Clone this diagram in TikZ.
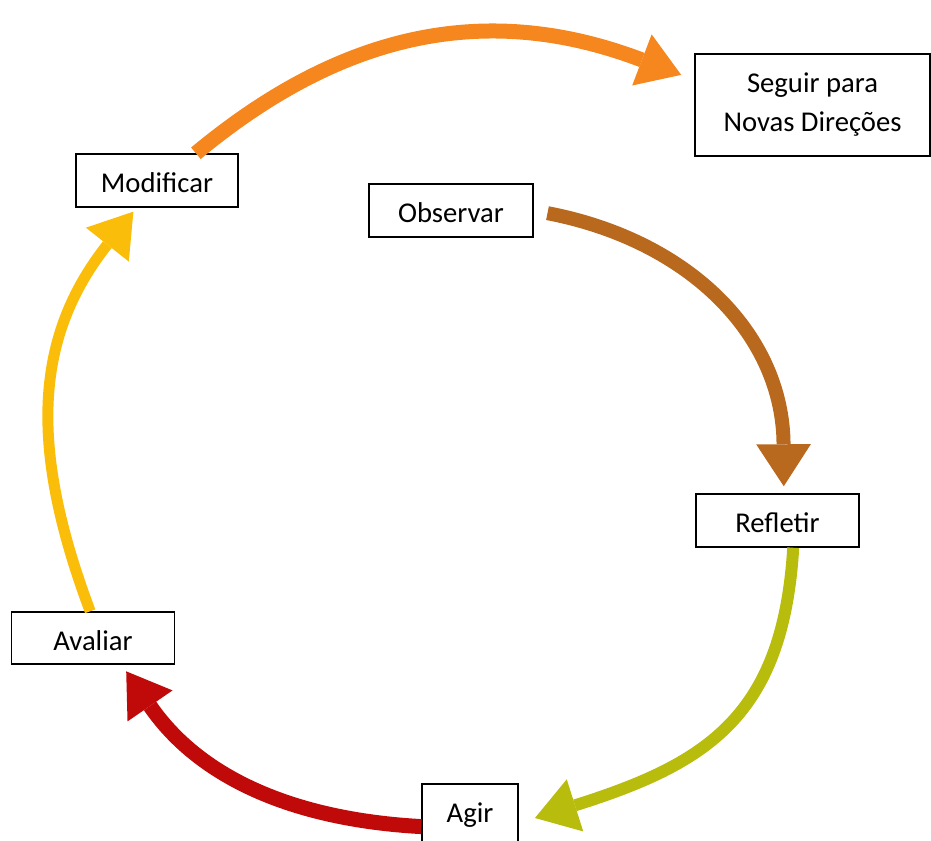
\documentclass[tikz,border=0pt]{standalone}
\usepackage{fontspec}
\setmainfont{Carlito}
\usepackage{xcolor}
\definecolor{ColOrange}{RGB}{245,135,30}
\definecolor{ColBrown}{RGB}{185,105,30}
\definecolor{ColOlive}{RGB}{184,188,12}
\definecolor{ColRed}{RGB}{192,10,10}
\definecolor{ColYellow}{RGB}{250,190,10}
\usepackage{tikz}
\usetikzlibrary{arrows.meta}
\tikzstyle{Box}=[draw=black,line width=1.1pt,fill=white,inner sep=0pt,
minimum height=39.75pt,font=\fontsize{21.5}{29.25}\selectfont]
\tikzstyle{OneLine}=[text height=19.35pt,text depth=1.07pt]
\tikzstyle{Arc}=[-{Triangle[length=31.5pt,width=41pt,line width=0pt]}]

\begin{document}
\begin{tikzpicture}[x=0.75pt,y=-0.75pt]
        \useasboundingbox(0,0)rectangle(931,841);
        \clip(0,0)rectangle(931,841);
        \node[Box,OneLine,minimum width=121.5pt](modificar)at(157,180.5){Modificar};
        \node[Box,OneLine,minimum width=123pt](observar)at(451,210.5){Observar};
        \node[Box,OneLine,minimum width=122.25pt](refletir)at(777.5,520.5){Refletir};
        \node[Box,OneLine,minimum width=122pt,minimum height=39pt](avaliar)at(93,638){Avaliar};
        \node[Box,text height=19.35pt,text depth=13.35pt,minimum width=72pt,
            minimum height=51pt](agir)at(470,818){Agir};
        \node[Box,align=center,minimum width=176.25pt,minimum height=76.5pt]
            (seguir)at(812.5,105){Seguir para\\Novas Direções};
        \draw[Arc,draw=ColOrange,line width=11.25pt,shorten >=10.5pt]
            (modificar.35)..controls(349,26)and(495,4)..(seguir.168);
        \draw[Arc,draw=ColBrown,line width=10.5pt,shorten <=10.5pt,
            shorten >=5.25pt](observar.east)..controls(692,241)and(783,337)..(refletir.77);
        \draw[Arc,draw=ColOlive,line width=9pt,shorten >=12.75pt]
            (refletir.-60)..controls(783,717)and(706,764)..(agir.-6);
        \draw[Arc,draw=ColRed,line width=11.25pt,shorten >=6pt]
            (agir.190)..controls(292,819.5)and(199,777)..(avaliar.-43);
        \draw[Arc,draw=ColYellow,line width=8.25pt,shorten >=3.75pt]
            (avaliar.96)..controls(27,443)and(36,335)..(modificar.233);
    \end{tikzpicture}
\end{document}
